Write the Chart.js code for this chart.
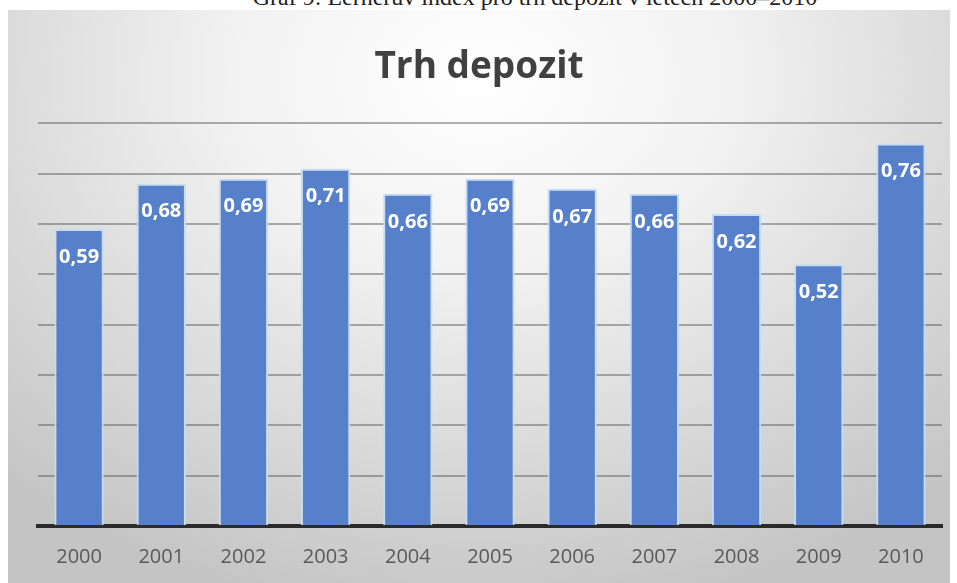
<!DOCTYPE html>
<html>
<head>
<meta charset="utf-8">
<script src="https://cdn.jsdelivr.net/npm/chart.js@4/dist/chart.umd.min.js"></script>
<style>
  html, body { margin:0; padding:0; background:#fff; width:957px; height:583px; overflow:hidden; }
  #caption { position:absolute; top:-16px; left:0; width:1070px; text-align:center;
    font-family:"Liberation Serif", serif; font-size:24px; color:#222; white-space:nowrap; }
  #box { position:absolute; left:8px; top:10px; width:942px; height:573px;
    background: radial-gradient(ellipse 75% 95% at 50% 12%, #ffffff 0%, #f2f2f2 35%, #d9d9d9 70%, #c4c4c4 100%); }
  canvas { display:block; }
</style>
</head>
<body>
<div id="caption">Graf 9: Lernerův index pro trh depozit v letech 2000–2010</div>
<div id="box"><canvas id="c" width="942" height="573"></canvas></div>
<script>
const chartTitle = "Trh depozit";
const years = ["2000","2001","2002","2003","2004","2005","2006","2007","2008","2009","2010"];
const lernerIndex = [0.59, 0.68, 0.69, 0.71, 0.66, 0.69, 0.67, 0.66, 0.62, 0.52, 0.76];

const labelPlugin = {
  id: 'barLabels',
  afterDatasetsDraw(chart) {
    const ctx = chart.ctx;
    const meta = chart.getDatasetMeta(0);
    ctx.save();
    ctx.fillStyle = '#ffffff';
    ctx.font = 'bold 20px "Open Sans"';
    ctx.textAlign = 'center';
    ctx.textBaseline = 'middle';
    meta.data.forEach((bar, i) => {
      const txt = lernerIndex[i].toFixed(2).replace('.', ',');
      ctx.fillText(txt, bar.x, bar.y + 28);
    });
    ctx.restore();
  }
};

new Chart(document.getElementById('c'), {
  type: 'bar',
  data: {
    labels: years,
    datasets: [{
      data: lernerIndex,
      backgroundColor: '#5680c9',
      borderColor: '#c5dcf2',
      borderWidth: 2,
      borderSkipped: 'bottom',
      categoryPercentage: 1.0,
      barPercentage: 0.6
    }]
  },
  options: {
    responsive: false,
    animation: false,
    layout: { padding: { left: 8, right: 8, top: 35, bottom: 3 } },
    plugins: {
      legend: { display: false },
      tooltip: { enabled: false },
      title: {
        display: true,
        text: chartTitle,
        color: '#404040',
        font: { family: '"Open Sans"', size: 37, weight: 'bold' },
        padding: { top: 0, bottom: 34 }
      }
    },
    scales: {
      x: {
        grid: { display: false },
        border: { display: true, color: '#2b2b2b', width: 4 },
        ticks: { color: '#595959', font: { family: '"Open Sans"', size: 20, lineHeight: 1.1 }, padding: 12 }
      },
      y: {
        min: 0, max: 0.8,
        afterFit(scale) { scale.width = 22; },
        ticks: { display: false, stepSize: 0.1 },
        border: { display: false },
        grid: { color: 'rgba(80,80,80,0.45)', lineWidth: 2, drawTicks: false }
      }
    }
  },
  plugins: [labelPlugin]
});
</script>
</body>
</html>
